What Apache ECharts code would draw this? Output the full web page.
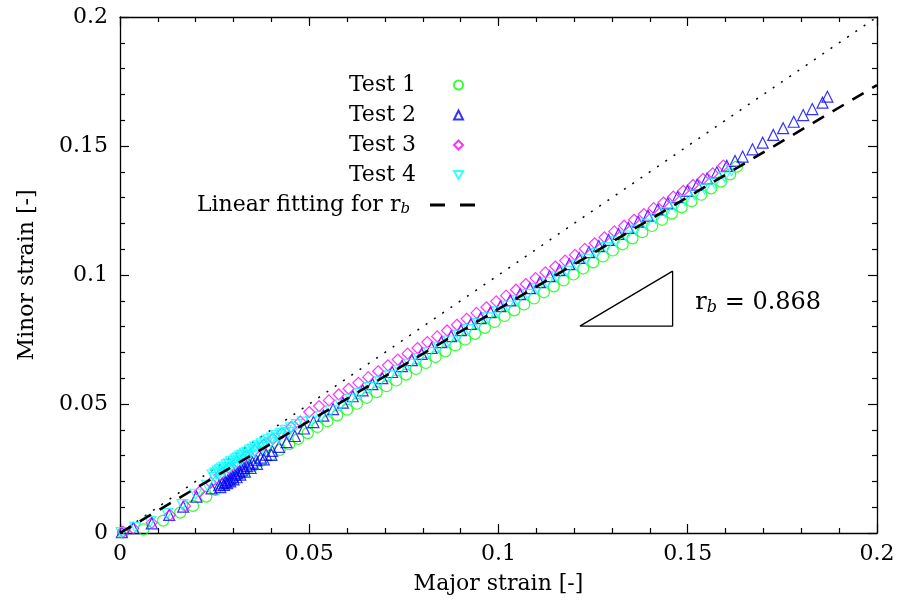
<!DOCTYPE html>
<html>
<head>
<meta charset="utf-8">
<script src="https://cdn.jsdelivr.net/npm/echarts@6/dist/echarts.min.js"></script>
<style>
html,body{margin:0;padding:0;background:#fff;}
#chart{width:901px;height:606px;}
</style>
</head>
<body>
<div id="chart"></div>
<script>
// ---- data ----
var xTicks = [0, 0.05, 0.1, 0.15, 0.2];
var yTicks = [0, 0.05, 0.1, 0.15, 0.2];
var seriesNames = ['Test 1', 'Test 2', 'Test 3', 'Test 4'];
var fitName = 'Linear fitting for r_b';
var fitSlope = 0.868;

var test1 = [
 [0.0008,0.0002],[0.0062,0.0014],[0.0114,0.0048],[0.0159,0.0079],[0.0193,0.0105],[0.0228,0.0141],
 [0.0252,0.0167],[0.0278,0.0192],[0.0302,0.0214],[0.0326,0.0236],[0.0350,0.0258],[0.0374,0.0280],
 [0.0398,0.0301],[0.0422,0.0322],[0.0447,0.0344],[0.0471,0.0365],[0.0496,0.0387],[0.0522,0.0411],
 [0.0548,0.0433],[0.0574,0.0456],[0.0600,0.0478],[0.0626,0.0501],[0.0652,0.0524],[0.0678,0.0546],
 [0.0704,0.0569],[0.0730,0.0591],[0.0756,0.0614],[0.0782,0.0636],[0.0808,0.0659],[0.0834,0.0682],
 [0.0860,0.0704],[0.0886,0.0727],[0.0912,0.0750],[0.0938,0.0772],[0.0964,0.0795],[0.0990,0.0818],
 [0.1016,0.0841],[0.1042,0.0863],[0.1068,0.0886],[0.1094,0.0909],[0.1120,0.0933],[0.1146,0.0956],
 [0.1172,0.0979],[0.1198,0.1002],[0.1224,0.1025],[0.1250,0.1049],[0.1276,0.1072],[0.1302,0.1095],
 [0.1328,0.1119],[0.1354,0.1142],[0.1380,0.1166],[0.1406,0.1190],[0.1432,0.1214],[0.1458,0.1238],
 [0.1484,0.1262],[0.1510,0.1286],[0.1536,0.1311],[0.1562,0.1336],[0.1588,0.1362],[0.1612,0.1390],
 [0.1630,0.1420]
];
var test2 = [
 [0.0005,0.0003],[0.0035,0.0019],[0.0084,0.0037],[0.0130,0.0070],[0.0167,0.0102],[0.0202,0.0141],
 [0.0242,0.0173],[0.0262,0.0185],[0.0270,0.0192],[0.0278,0.0198],[0.0285,0.0205],[0.0292,0.0212],
 [0.0298,0.0219],[0.0304,0.0226],[0.0310,0.0232],[0.0316,0.0239],[0.0322,0.0246],[0.0328,0.0252],
 [0.0335,0.0259],[0.0342,0.0266],[0.0350,0.0273],[0.0360,0.0282],[0.0372,0.0292],[0.0386,0.0304],
 [0.0402,0.0318],[0.0420,0.0334],[0.0440,0.0352],[0.0462,0.0376],[0.0486,0.0405],[0.0511,0.0430],
 [0.0265,0.0178],[0.0275,0.0186],[0.0283,0.0193],[0.0291,0.0200],[0.0300,0.0208],[0.0308,0.0216],
 [0.0318,0.0226],[0.0330,0.0238],[0.0345,0.0252],[0.0362,0.0268],[0.0380,0.0285],[0.0400,0.0303],
 [0.0537,0.0455],[0.0563,0.0480],[0.0589,0.0505],[0.0615,0.0530],[0.0641,0.0553],[0.0667,0.0577],
 [0.0693,0.0600],[0.0719,0.0624],[0.0745,0.0647],[0.0771,0.0670],[0.0797,0.0694],[0.0823,0.0717],
 [0.0849,0.0740],[0.0875,0.0763],[0.0901,0.0786],[0.0927,0.0810],[0.0953,0.0833],[0.0979,0.0856],
 [0.1005,0.0879],[0.1031,0.0902],[0.1057,0.0926],[0.1083,0.0949],[0.1109,0.0972],[0.1135,0.0996],
 [0.1161,0.1019],[0.1187,0.1042],[0.1213,0.1066],[0.1239,0.1089],[0.1265,0.1112],[0.1291,0.1136],
 [0.1317,0.1159],[0.1343,0.1183],[0.1369,0.1207],[0.1395,0.1230],[0.1421,0.1254],[0.1447,0.1278],
 [0.1473,0.1302],[0.1499,0.1326],[0.1525,0.1350],[0.1551,0.1374],[0.1577,0.1398],[0.1603,0.1423],
 [0.1625,0.1442],[0.1645,0.1459],[0.1671,0.1487],[0.1698,0.1513],[0.1726,0.1543],[0.1752,0.1569],
 [0.1780,0.1594],[0.1805,0.1620],[0.1829,0.1643],[0.1856,0.1668],[0.1869,0.1691]
];
var test3 = [
 [0.0008,0.0004],[0.0035,0.0018],[0.0084,0.0040],[0.0132,0.0070],[0.0172,0.0105],[0.0210,0.0160],
 [0.0240,0.0195],[0.0264,0.0225],[0.0288,0.0252],[0.0310,0.0275],[0.0333,0.0297],[0.0356,0.0320],
 [0.0380,0.0342],[0.0404,0.0365],[0.0428,0.0387],[0.0452,0.0410],[0.0476,0.0432],[0.0500,0.0469],
 [0.0526,0.0492],[0.0552,0.0514],[0.0578,0.0537],[0.0604,0.0559],[0.0630,0.0582],[0.0656,0.0604],
 [0.0682,0.0627],[0.0708,0.0650],[0.0734,0.0672],[0.0760,0.0695],[0.0786,0.0717],[0.0812,0.0740],
 [0.0838,0.0762],[0.0864,0.0785],[0.0890,0.0807],[0.0916,0.0830],[0.0942,0.0853],[0.0968,0.0875],
 [0.0994,0.0898],[0.1020,0.0920],[0.1046,0.0943],[0.1072,0.0965],[0.1098,0.0988],[0.1124,0.1010],
 [0.1150,0.1033],[0.1176,0.1056],[0.1202,0.1078],[0.1228,0.1101],[0.1254,0.1123],[0.1280,0.1146],
 [0.1306,0.1169],[0.1332,0.1191],[0.1358,0.1214],[0.1384,0.1236],[0.1410,0.1259],[0.1436,0.1281],
 [0.1462,0.1304],[0.1488,0.1326],[0.1514,0.1349],[0.1540,0.1372],[0.1566,0.1394],[0.1594,0.1424]
];
var test4 = [
 [0.0004,0.0002],[0.0040,0.0022],[0.0080,0.0045],[0.0125,0.0075],[0.0165,0.0110],[0.0200,0.0150],
 [0.0230,0.0185],[0.0245,0.0225],[0.0252,0.0232],[0.0258,0.0240],[0.0264,0.0245],[0.0270,0.0252],
 [0.0276,0.0256],[0.0282,0.0264],[0.0288,0.0268],[0.0294,0.0276],[0.0300,0.0279],[0.0306,0.0287],
 [0.0312,0.0291],[0.0318,0.0298],[0.0324,0.0302],[0.0330,0.0309],[0.0337,0.0314],[0.0344,0.0321],
 [0.0351,0.0325],[0.0358,0.0333],[0.0366,0.0338],[0.0374,0.0346],[0.0383,0.0352],[0.0392,0.0361],
 [0.0402,0.0368],[0.0413,0.0378],[0.0425,0.0386],[0.0438,0.0398],[0.0452,0.0408],[0.0467,0.0420],
 [0.0250,0.0215],[0.0262,0.0228],[0.0275,0.0240],[0.0290,0.0255],[0.0305,0.0268],[0.0320,0.0282],
 [0.0338,0.0298],[0.0356,0.0314],[0.0376,0.0331],[0.0398,0.0350],[0.0420,0.0368],[0.0445,0.0390],
 [0.0483,0.0430],[0.0505,0.0434],[0.0531,0.0452],[0.0557,0.0474],[0.0583,0.0497],[0.0609,0.0519],
 [0.0635,0.0541],[0.0661,0.0564],[0.0687,0.0586],[0.0713,0.0609],[0.0739,0.0631],[0.0765,0.0654],
 [0.0791,0.0676],[0.0817,0.0699],[0.0843,0.0721],[0.0869,0.0744],[0.0895,0.0767],[0.0921,0.0789],
 [0.0947,0.0812],[0.0973,0.0834],[0.0999,0.0857],[0.1025,0.0880],[0.1051,0.0902],[0.1077,0.0925],
 [0.1103,0.0947],[0.1129,0.0970],[0.1155,0.0993],[0.1181,0.1015],[0.1207,0.1038],[0.1233,0.1061],
 [0.1259,0.1083],[0.1285,0.1106],[0.1311,0.1129],[0.1337,0.1151],[0.1363,0.1174],[0.1389,0.1197],
 [0.1415,0.1219],[0.1441,0.1242],[0.1467,0.1265],[0.1493,0.1288],[0.1519,0.1310],[0.1545,0.1333],
 [0.1571,0.1356],[0.1597,0.1380],[0.1616,0.1405]
];
var fitLine = [[0, 0], [0.2, 0.1736]];
var diagLine = [[0, 0], [0.2, 0.2]];
var slopeTriangle = [[0.1215, 0.0802], [0.1460, 0.0802], [0.1460, 0.1015], [0.1215, 0.0802]];
var slopeLabelPos = [[0.1520, 0.0891]];
var slopeLabelText = ' = 0.868';

// ---- styles ----
var FONT = 'DejaVu Serif';
var colors = ['#00ff00', '#0000ff', '#ff00ff', '#00ffff'];
var symbols = ['circle', 'triangle', 'diamond', 'path://M0,0L10,0L5,8.66Z'];
var datasets = [test1, test2, test3, test4];

function axisCommon(pos, showLabel) {
  return {
    type: 'value', min: 0, max: 0.2, interval: 0.05, position: pos,
    axisLine: {show: true, onZero: false, lineStyle: {color: '#000', width: 1.3}},
    axisTick: {show: true, inside: true, length: 9, lineStyle: {color: '#000', width: 1.2}},
    minorTick: {show: true, splitNumber: 5, length: 5, lineStyle: {color: '#000', width: 1.2}},
    splitLine: {show: false},
    minorSplitLine: {show: false},
    axisLabel: {show: showLabel, color: '#000', fontFamily: FONT, fontSize: 22, margin: 10,
      formatter: function (v) { return String(v); }}
  };
}

var xBottom = axisCommon('bottom', true);
xBottom.name = 'Major strain [-]';
xBottom.nameLocation = 'middle';
xBottom.nameGap = 40;
xBottom.nameTextStyle = {color: '#000', fontFamily: FONT, fontSize: 22};
var xTop = axisCommon('top', false);
var yLeft = axisCommon('left', true);
yLeft.axisLabel.margin = 12;
yLeft.name = 'Minor strain [-]';
yLeft.nameLocation = 'middle';
yLeft.nameGap = 82;
yLeft.nameRotate = 90;
yLeft.nameTextStyle = {color: '#000', fontFamily: FONT, fontSize: 22};
var yRight = axisCommon('right', false);

var series = [];
series.push({
  name: 'diag', type: 'line', data: diagLine, symbol: 'none', silent: true,
  itemStyle: {color: '#000'},
  lineStyle: {color: '#000', width: 1.5, type: [2, 8]}, z: 1
});
for (var i = 0; i < 4; i++) {
  series.push({
    name: seriesNames[i], type: 'scatter', data: datasets[i],
    symbol: symbols[i], symbolSize: i === 3 ? [11, 10] : 11,
    itemStyle: {color: 'rgba(0,0,0,0)', borderColor: colors[i], borderWidth: 1.2},
    z: 2 + i
  });
}
series.push({
  name: fitName, type: 'line', data: fitLine, symbol: 'none', showSymbol: false,
  itemStyle: {color: '#000'},
  lineStyle: {color: '#000', width: 2.6, type: [13, 10]}, z: 10
});
series.push({
  name: 'triangle', type: 'line', data: slopeTriangle, symbol: 'none', silent: true,
  itemStyle: {color: '#000'},
  lineStyle: {color: '#000', width: 1.3}, z: 10
});
series.push({
  name: 'slopeLabel', type: 'scatter', data: slopeLabelPos, symbolSize: 0, silent: true,
  itemStyle: {color: '#000', opacity: 1},
  label: {
    show: true, position: 'right', distance: 0, color: '#000', opacity: 1,
    formatter: '{r|r}{b|b}{r|' + slopeLabelText + '}',
    rich: {
      r: {fontFamily: FONT, fontSize: 24, color: '#000'},
      b: {fontFamily: FONT, fontSize: 16, fontStyle: 'italic', color: '#000', verticalAlign: 'bottom', padding: [9, 0, 0, 0]}
    }
  },
  z: 12
});

var legendRows = [86, 116, 146, 176];
var legends = [];
for (var j = 0; j < 4; j++) {
  legends.push({
    data: [seriesNames[j]], orient: 'horizontal', align: 'right',
    right: 437, top: legendRows[j] - 12, itemWidth: 9, itemHeight: 9, padding: 0,
    selectedMode: false,
    formatter: function (n) { return '{t|' + n + '}{s|}'; },
    textStyle: {
      rich: {
        t: {fontFamily: FONT, fontSize: 22, color: '#000', lineHeight: 24},
        s: {width: 33}
      }
    }
  });
}
legends.push({
  data: [{name: fitName, icon: 'path://M0,0H15V3H0ZM30,0H45V3H30Z', itemStyle: {color: '#000'}}],
  orient: 'horizontal', align: 'right',
  right: 426, top: 206 - 12, itemWidth: 45, itemHeight: 3, padding: 0,
  selectedMode: false,
  formatter: function () { return '{t|Linear fitting for r}{b|b}{s|}'; },
  textStyle: {
    rich: {
      t: {fontFamily: FONT, fontSize: 22, color: '#000', lineHeight: 24},
      b: {fontFamily: FONT, fontSize: 15, fontStyle: 'italic', color: '#000', verticalAlign: 'bottom', padding: [8, 0, 0, 0]},
      s: {width: 15}
    }
  }
});

var chart = echarts.init(document.getElementById('chart'), null, {renderer: 'canvas'});
chart.setOption({
  backgroundColor: '#fff',
  animation: false,
  grid: {left: 120, top: 17, right: 24, bottom: 73},
  xAxis: [xBottom, xTop],
  yAxis: [yLeft, yRight],
  legend: legends,
  series: series
});
</script>
</body>
</html>
